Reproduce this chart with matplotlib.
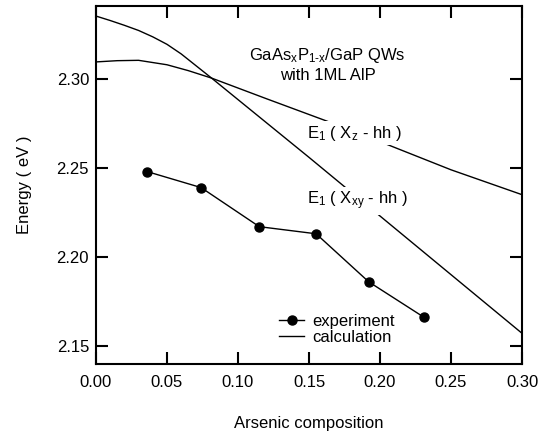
import numpy as np
import matplotlib
matplotlib.use("Agg")
import matplotlib.pyplot as plt

plt.rcParams['font.family'] = ['Liberation Sans', 'DejaVu Sans']
plt.rcParams['mathtext.fontset'] = 'custom'
plt.rcParams['mathtext.rm'] = 'Liberation Sans'
plt.rcParams['mathtext.it'] = 'Liberation Sans'
plt.rcParams['mathtext.default'] = 'regular'

# experiment
exp_x = [0.036, 0.074, 0.115, 0.155, 0.192, 0.231]
exp_y = [2.248, 2.239, 2.217, 2.213, 2.186, 2.166]

# calculation, E1 (Xxy - hh)
xy_x = [0.0, 0.01, 0.02, 0.03, 0.04, 0.05, 0.06, 0.0814, 0.10, 0.15, 0.20, 0.25, 0.30]
xy_y = [2.3355, 2.3330, 2.3303, 2.3274, 2.3238, 2.3196, 2.3142, 2.3006, 2.2885, 2.2560, 2.2230, 2.1900, 2.1570]

# calculation, E1 (Xz - hh)
xz_x = [0.0, 0.015, 0.03, 0.05, 0.065, 0.0814, 0.12, 0.1646, 0.2055, 0.25, 0.30]
xz_y = [2.3097, 2.3104, 2.3106, 2.3081, 2.3048, 2.3006, 2.2890, 2.2758, 2.2631, 2.2490, 2.2350]

xticks = [0.00, 0.05, 0.10, 0.15, 0.20, 0.25, 0.30]
yticks = [2.15, 2.20, 2.25, 2.30]

fig = plt.figure(figsize=(5.51, 4.34), dpi=100)
ax = fig.add_axes([0.1742, 0.1624, 0.7732, 0.8231])

ax.plot(exp_x, exp_y, '-o', color='black', lw=1.0, ms=6.5, label='experiment')
ax.plot(xy_x, xy_y, '-', color='black', lw=1.0, label='calculation')
ax.plot(xz_x, xz_y, '-', color='black', lw=1.0)

fs = 12
box = dict(boxstyle='square,pad=0.15', fc='white', ec='none')
ax.text(0.182, 2.2695, 'E$_1$ ( X$_z$ - hh )', fontsize=fs, ha='center', va='center',
        bbox=box, zorder=5)
ax.text(0.184, 2.2315, 'E$_1$ ( X$_{xy}$ - hh )', fontsize=fs, ha='center', va='center',
        bbox=box, zorder=5)
ax.text(0.163, 2.3083, 'GaAs$_x$P$_{1\u2010x}$/GaP QWs\nwith 1ML AlP', fontsize=fs,
        ha='center', va='center', linespacing=1.2)

ax.set_xlim(0.0, 0.30)
ax.set_ylim(2.140, 2.341)
ax.set_xticks(xticks)
ax.set_yticks(yticks)
ax.set_xticklabels(['%.2f' % v for v in xticks])
ax.set_yticklabels(['%.2f' % v for v in yticks])
ax.tick_params(direction='in', length=8.4, width=1.5, labelsize=fs,
               top=True, right=True)
ax.tick_params(axis='x', pad=8)
ax.tick_params(axis='y', pad=5)
for s in ax.spines.values():
    s.set_linewidth(1.5)

ax.set_xlabel('Arsenic composition', fontsize=fs, labelpad=19)
ax.set_ylabel('Energy ( eV )', fontsize=fs, labelpad=18)

ax.legend(loc='upper left', bbox_to_anchor=(0.43, 0.14), frameon=False, fontsize=fs,
          handlelength=1.5, handletextpad=0.5, labelspacing=0.1,
          borderpad=0, borderaxespad=0)

fig.savefig('out.png', dpi=100)
